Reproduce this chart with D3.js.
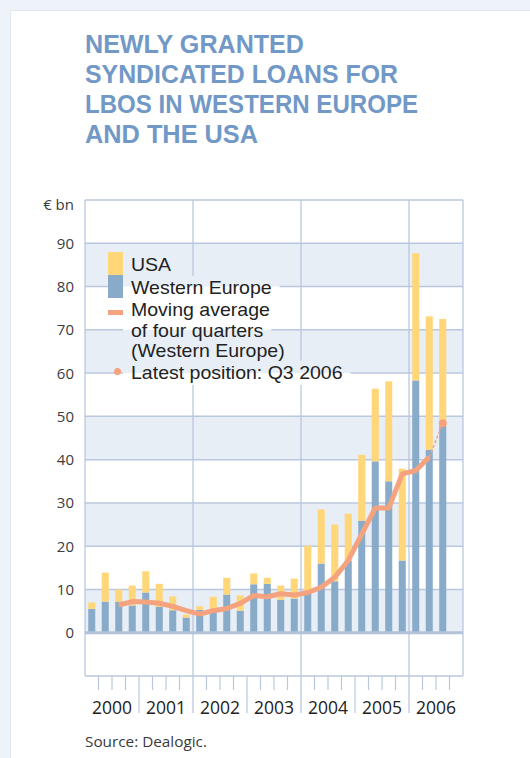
<!DOCTYPE html>
<html><head><meta charset="utf-8">
<script src="https://cdn.jsdelivr.net/npm/d3@7"></script>
<style>
html,body{margin:0;padding:0;background:#eef2f9;}
svg{display:block;}
text{font-family:"Open Sans","Noto Sans",sans-serif;}
</style></head>
<body>
<svg id="chart" width="530" height="758"></svg>
<script>
// ---- data ----
const titleLines = ["NEWLY GRANTED", "SYNDICATED LOANS FOR", "LBOS IN WESTERN EUROPE", "AND THE USA"];
const years = ["2000", "2001", "2002", "2003", "2004", "2005", "2006"];
const quartersPerYear = 4;
const westernEurope = [5.5, 7.2, 7.2, 6.3, 9.3, 6.0, 5.2, 3.5, 5.3, 4.8, 8.8, 5.1, 11.2, 11.3, 7.6, 7.9, 9.3, 16.0, 11.9, 16.7, 25.9, 39.6, 35.0, 16.7, 58.3, 42.3, 47.8];
const usa = [1.5, 6.7, 2.8, 4.6, 4.9, 5.3, 3.2, 0.7, 0.8, 3.5, 3.9, 3.5, 2.5, 1.4, 3.3, 4.6, 10.8, 12.5, 13.1, 10.8, 15.2, 16.8, 23.1, 21.2, 29.4, 30.8, 24.7];
const movingAvgStart = 2; // quarter index where the moving average begins
const movingAvg = [6.4, 7.2, 7.1, 6.8, 6.1, 5.1, 4.3, 5.1, 5.6, 6.8, 8.6, 8.3, 9.0, 8.7, 9.3, 10.5, 12.8, 16.7, 22.8, 28.8, 28.8, 36.7, 37.5, 40.6];
const latestPosition = 48.4; // Q3 2006
const yTicks = [0, 10, 20, 30, 40, 50, 60, 70, 80, 90];
const yUnit = "€ bn";
const legendItems = [
  {key: "usa", lines: ["USA"]},
  {key: "we", lines: ["Western Europe"]},
  {key: "ma", lines: ["Moving average", "of four quarters", "(Western Europe)"]},
  {key: "latest", lines: ["Latest position: Q3 2006"]}
];
const sourceText = "Source: Dealogic.";

// ---- styles ----
const C = {
  title: "#7198c6", blue: "#89abca", yellow: "#ffd678", band: "#e8eef6",
  grid: "#b9c8de", zero: "#b3c2d9", line: "#f5a27f", text: "#222222", tick: "#3c3c3c"
};

const svg = d3.select("#chart");
// page background panel
svg.append("rect").attr("x", 0).attr("y", 0).attr("width", 530).attr("height", 758).attr("fill", "#eef2f9");
svg.append("rect").attr("x", 10).attr("y", 10).attr("width", 520).attr("height", 748).attr("fill", "#e2e8f2");
svg.append("rect").attr("x", 11).attr("y", 11).attr("width", 519).attr("height", 747).attr("fill", "#ffffff");

// title
const titleBase = [53.3, 83.3, 113.3, 143];
const titleWidths = [219, 313, 333, 173];
svg.append("g").selectAll("text").data(titleLines).join("text")
  .attr("x", 85).attr("y", (d, i) => titleBase[i])
  .style("font-family", "'Liberation Sans', Arial, sans-serif")
  .attr("font-size", 26).attr("font-weight", 700).attr("fill", C.title)
  .attr("textLength", (d, i) => titleWidths[i]).attr("lengthAdjust", "spacingAndGlyphs")
  .text(d => d);

// scales
const nQ = years.length * quartersPerYear;
const quarterIdx = d3.range(nQ);
const x = d3.scaleBand().domain(quarterIdx).range([85, 463]).paddingInner(0.48).paddingOuter(0.24);
const xEdge = d3.scaleLinear().domain([0, nQ]).range([85, 463]);
const y = d3.scaleLinear().domain([-10, 100]).range([676, 200]);
const xc = i => x(i) + x.bandwidth() / 2;

// bands
svg.append("g").selectAll("rect").data(yTicks.filter(v => v % 20 === 0)).join("rect")
  .attr("x", xEdge(0)).attr("width", xEdge(nQ) - xEdge(0))
  .attr("y", d => y(d + 10)).attr("height", d => y(d) - y(d + 10))
  .attr("fill", C.band);

// mask (filled after legend layout)
const defs = svg.append("defs");
const mask = defs.append("mask").attr("id", "legendMask").attr("maskUnits", "userSpaceOnUse")
  .attr("x", 0).attr("y", 0).attr("width", 530).attr("height", 758);
mask.append("rect").attr("x", 0).attr("y", 0).attr("width", 530).attr("height", 758).attr("fill", "white");

// grid
const grid = svg.append("g").attr("mask", "url(#legendMask)");
grid.selectAll("line.h").data(yTicks.filter(v => v !== 0).concat([100, -10])).join("line")
  .attr("x1", xEdge(0)).attr("x2", xEdge(nQ)).attr("y1", d => y(d)).attr("y2", d => y(d))
  .attr("stroke", C.grid).attr("stroke-width", 1.5);
grid.selectAll("line.v").data([0, nQ]).join("line")
  .attr("x1", d => xEdge(d)).attr("x2", d => xEdge(d)).attr("y1", y(100)).attr("y2", y(-10))
  .attr("stroke", C.grid).attr("stroke-width", 1.3);
const majors = d3.range(2 * quartersPerYear, nQ, 2 * quartersPerYear);
grid.selectAll("line.m").data(majors).join("line")
  .attr("x1", d => xEdge(d)).attr("x2", d => xEdge(d)).attr("y1", y(100)).attr("y2", 713)
  .attr("stroke", C.grid).attr("stroke-width", 1.3);
const ticks = d3.range(1, nQ).filter(i => i % (2 * quartersPerYear) !== 0);
svg.append("g").selectAll("line").data(ticks).join("line")
  .attr("x1", d => xEdge(d)).attr("x2", d => xEdge(d)).attr("y1", y(-10))
  .attr("y2", d => d % quartersPerYear === 0 ? 713 : 690)
  .attr("stroke", C.grid).attr("stroke-width", 1.2);

// bars
const barsG = svg.append("g");
barsG.selectAll("rect.we").data(westernEurope).join("rect")
  .attr("x", (d, i) => x(i)).attr("width", x.bandwidth())
  .attr("y", d => y(d)).attr("height", d => y(0) - y(d)).attr("fill", C.blue);
barsG.selectAll("rect.us").data(usa).join("rect")
  .attr("x", (d, i) => x(i)).attr("width", x.bandwidth())
  .attr("y", (d, i) => y(westernEurope[i] + d)).attr("height", (d, i) => y(westernEurope[i]) - y(westernEurope[i] + d))
  .attr("fill", C.yellow);

// zero line
svg.append("line").attr("x1", xEdge(0)).attr("x2", xEdge(nQ)).attr("y1", y(0)).attr("y2", y(0))
  .attr("stroke", C.zero).attr("stroke-width", 3);

// moving average
const maPts = movingAvg.map((v, i) => [xc(i + movingAvgStart), y(v)]);
svg.append("path").attr("d", d3.line().curve(d3.curveLinear)(maPts))
  .attr("fill", "none").attr("stroke", C.line).attr("stroke-width", 5).attr("stroke-linejoin", "round");
const lastIdx = movingAvgStart + movingAvg.length;
svg.append("path").attr("d", d3.line()([[xc(lastIdx - 1), y(movingAvg[movingAvg.length - 1])], [xc(lastIdx), y(latestPosition)]]))
  .attr("fill", "none").attr("stroke", C.line).attr("stroke-width", 1.5).attr("stroke-dasharray", "3,2");
svg.append("circle").attr("cx", xc(lastIdx)).attr("cy", y(latestPosition)).attr("r", 4).attr("fill", C.line);

// y labels
svg.append("g").selectAll("text").data(yTicks).join("text")
  .attr("x", 74).attr("y", d => y(d) + 5.5).attr("text-anchor", "end")
  .attr("font-size", 15).attr("fill", C.tick).text(d => d);
svg.append("text").attr("x", 74).attr("y", 210).attr("text-anchor", "end")
  .attr("font-size", 15).attr("fill", C.tick).text(yUnit);

// year labels
svg.append("g").selectAll("text").data(years).join("text")
  .attr("x", (d, i) => (xEdge(i * quartersPerYear) + xEdge((i + 1) * quartersPerYear)) / 2)
  .attr("y", 714).attr("text-anchor", "middle")
  .attr("font-size", 17.5).attr("fill", C.text).text(d => d);

// source
svg.append("text").attr("x", 85).attr("y", 747).attr("font-size", 15.3).attr("fill", "#3a3a3a").text(sourceText);

// legend
const legend = svg.append("g");
const lgX = 131, lgScale = 1.085;
const lgText = legend.append("g").attr("transform", `translate(${lgX},0) scale(${lgScale},1)`);
const lineBase = [[271], [294], [316.5, 337, 357.5], [379]];
legendItems.forEach((item, k) => {
  item.lines.forEach((t, j) => {
    lgText.append("text").attr("class", "lg").attr("x", 0).attr("y", lineBase[k][j])
      .style("font-family", "'Liberation Sans', Arial, sans-serif")
      .attr("font-size", 18).attr("fill", C.text).text(t);
  });
});
legend.append("rect").attr("x", 108).attr("y", 252).attr("width", 15).attr("height", 23).attr("fill", C.yellow);
legend.append("rect").attr("x", 108).attr("y", 275).attr("width", 15).attr("height", 23).attr("fill", C.blue);
legend.append("line").attr("x1", 108).attr("x2", 123).attr("y1", 312.5).attr("y2", 312.5)
  .attr("stroke", C.line).attr("stroke-width", 5);
legend.append("circle").attr("cx", 117.5).attr("cy", 371.5).attr("r", 3.5).attr("fill", C.line);

// cut the gridlines where the legend text sits
lgText.selectAll("text.lg").each(function() {
  const b = this.getBBox();
  mask.append("rect").attr("x", lgX + b.x * lgScale - 8).attr("y", b.y - 2)
    .attr("width", b.width * lgScale + 16).attr("height", b.height + 4).attr("fill", "black");
});
</script>
</body></html>
